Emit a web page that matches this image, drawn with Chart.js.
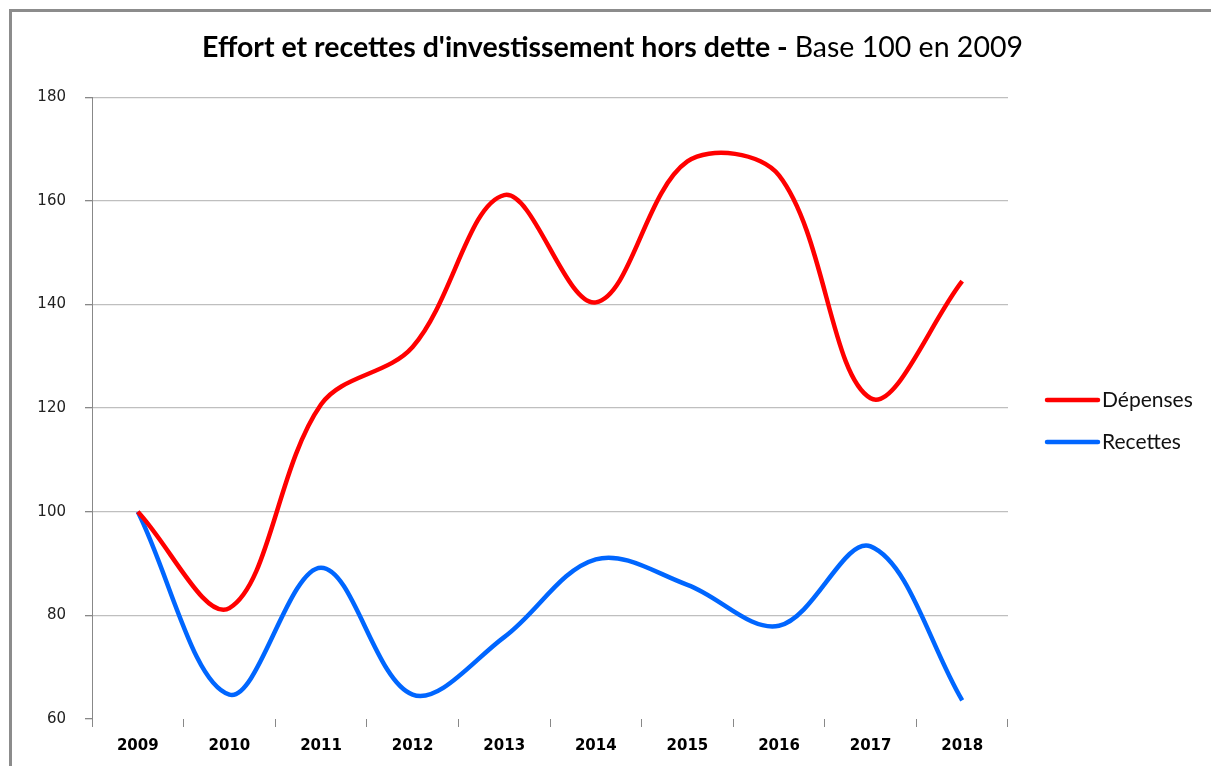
<!DOCTYPE html>
<html>
<head>
<meta charset="utf-8">
<script src="https://cdn.jsdelivr.net/npm/chart.js@4/dist/chart.umd.min.js"></script>
<style>
  html, body { margin: 0; padding: 0; background: #fff; }
  #wrap { position: relative; width: 1211px; height: 766px; }
</style>
</head>
<body>
<div id="wrap"><canvas id="c" width="1211" height="766"></canvas></div>
<script>
const titleBold = "Effort et recettes d'investissement hors dette - ";
const titleRegular = "Base 100 en 2009";
const years = ["2009","2010","2011","2012","2013","2014","2015","2016","2017","2018"];
const depenses = [100, 81.4, 120.7, 131.8, 161.1, 140.4, 167.6, 164.9, 121.9, 144.5];
const recettes = [100, 64.7, 89.2, 64.7, 75.8, 90.8, 85.9, 78.0, 93.3, 63.6];
const seriesNames = ["Dépenses", "Recettes"];
const seriesColors = ["#ff0000", "#0066ff"];
const yTicks = [60, 80, 100, 120, 140, 160, 180];

const TITLE_SIZE = 28.5;

const framePlugin = {
  id: 'frame',
  beforeDraw(chart) {
    const ctx = chart.ctx;
    ctx.save();
    ctx.fillStyle = '#fff';
    ctx.fillRect(0, 0, chart.width, chart.height);
    ctx.fillStyle = '#8c8c8c';
    ctx.fillRect(9, 9, chart.width - 9, 3);
    ctx.fillRect(9, 9, 3, chart.height - 9);
    ctx.restore();
  }
};

const titlePlugin = {
  id: 'mixedTitle',
  afterDraw(chart) {
    const ctx = chart.ctx;
    const t = chart.titleBlock;
    const cx = (t.left + t.right) / 2;
    const cy = t.top + 31 + (TITLE_SIZE * 1.2) / 2;
    ctx.save();
    ctx.textBaseline = 'middle';
    ctx.textAlign = 'left';
    ctx.fillStyle = '#000';
    const fb = 'bold ' + TITLE_SIZE + 'px Lato';
    const fr = TITLE_SIZE + 'px Lato';
    ctx.font = fb;
    const w1 = ctx.measureText(titleBold).width;
    ctx.font = fr;
    const w2 = ctx.measureText(titleRegular).width;
    const x0 = cx - (w1 + w2) / 2;
    ctx.font = fb;
    ctx.fillText(titleBold, x0, cy);
    ctx.font = fr;
    ctx.fillText(titleRegular, x0 + w1, cy);
    ctx.restore();
  }
};

const legendPlugin = {
  id: 'sideLegend',
  afterDraw(chart) {
    const ctx = chart.ctx;
    const x0 = chart.chartArea.right + 39;
    ctx.save();
    chart.data.datasets.forEach((ds, i) => {
      const y = 400 + i * 42;
      ctx.strokeStyle = ds.borderColor;
      ctx.lineWidth = 4.5;
      ctx.lineCap = 'round';
      ctx.beginPath();
      ctx.moveTo(x0, y);
      ctx.lineTo(x0 + 51, y);
      ctx.stroke();
      ctx.fillStyle = '#111';
      ctx.font = '21px Lato';
      ctx.textBaseline = 'middle';
      ctx.textAlign = 'left';
      ctx.fillText(ds.label, x0 + 55, y);
    });
    ctx.restore();
  }
};

new Chart(document.getElementById('c'), {
  type: 'line',
  data: {
    labels: years,
    datasets: [
      { label: seriesNames[0], data: depenses, borderColor: seriesColors[0], backgroundColor: seriesColors[0],
        borderWidth: 4.5, pointRadius: 0, tension: 0.35, fill: false, yAxisID: 'y' },
      { label: seriesNames[1], data: recettes, borderColor: seriesColors[1], backgroundColor: seriesColors[1],
        borderWidth: 4.5, pointRadius: 0, tension: 0.35, fill: false, yAxisID: 'y' }
    ]
  },
  options: {
    responsive: false,
    animation: false,
    layout: { padding: { left: 14, right: 0, top: 0, bottom: 0 } },
    plugins: {
      legend: { display: false },
      tooltip: { enabled: false },
      title: {
        display: true,
        text: titleBold + titleRegular,
        color: 'rgba(0,0,0,0)',
        font: { family: 'Lato', size: TITLE_SIZE, weight: 'bold' },
        padding: { top: 31, bottom: 32 }
      }
    },
    scales: {
      x: {
        offset: true,
        grid: { offset: true, drawOnChartArea: false, drawTicks: true, tickLength: 8, tickColor: '#888', lineWidth: 1 },
        border: { display: false },
        ticks: { color: '#000', font: { family: 'DejaVu Sans', size: 15, weight: 'bold' }, padding: 10, maxRotation: 0 },
        afterFit(s) { s.height = 47; }
      },
      y: {
        min: 60, max: 180,
        afterBuildTicks(s) { s.ticks = yTicks.map(v => ({ value: v })); },
        grid: {
          color: (c) => (c.tick && c.tick.value === 60) ? 'rgba(0,0,0,0)' : '#bfbfbf',
          tickColor: '#888', tickLength: 7, lineWidth: 1.3
        },
        border: { display: true, color: '#888', width: 1 },
        ticks: { color: '#222', font: { family: 'DejaVu Sans', size: 15 }, padding: 19 },
        afterFit(s) { s.width = 78; }
      },
      yr: {
        position: 'right', min: 0, max: 1,
        grid: { display: false }, border: { display: false },
        ticks: { display: false },
        afterFit(s) { s.width = 203; }
      }
    }
  },
  plugins: [framePlugin, titlePlugin, legendPlugin]
});
</script>
</body>
</html>
